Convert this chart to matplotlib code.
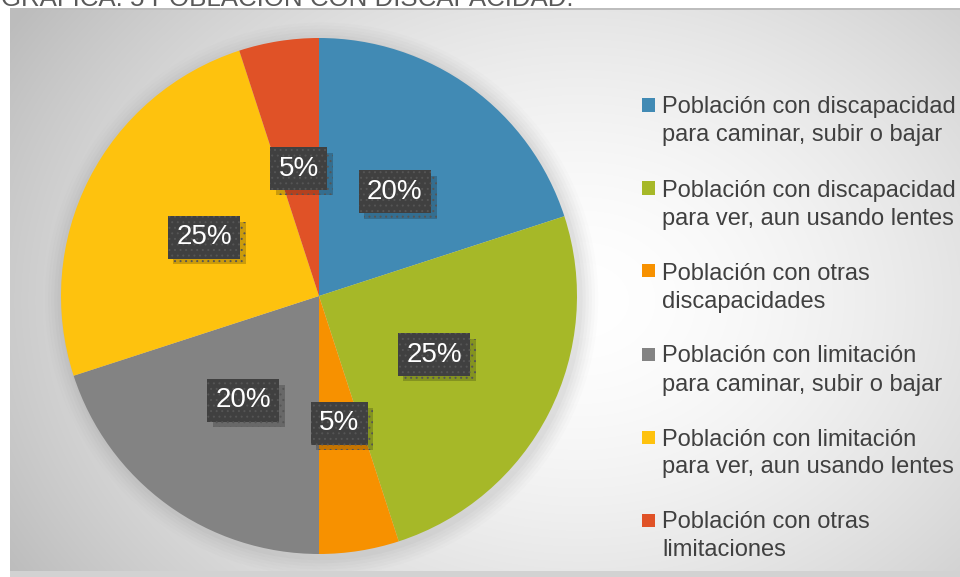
import numpy as np
import matplotlib
matplotlib.use("Agg")
import matplotlib.pyplot as plt
import matplotlib.patheffects as pe
from matplotlib.patches import Rectangle

plt.rcParams['font.family'] = ['Liberation Sans', 'DejaVu Sans']
plt.rcParams['hatch.linewidth'] = 0.7

# ---- data ----
categories = [
    "Población con discapacidad\npara caminar, subir o bajar",
    "Población con discapacidad\npara ver, aun usando lentes",
    "Población con otras\ndiscapacidades",
    "Población con limitación\npara caminar, subir o bajar",
    "Población con limitación\npara ver, aun usando lentes",
    "Población con otras\nlimitaciones",
]
values = [20, 25, 5, 20, 25, 5]
colors = ["#418AB4", "#A6B828", "#F79100", "#838383", "#FEC20E", "#E05227"]
title = "GRÁFICA. 5 POBLACIÓN CON DISCAPACIDAD."

W, H = 960, 577
fig = plt.figure(figsize=(W / 100, H / 100), dpi=100)
fig.patch.set_facecolor('white')

def fx(x):
    return x / W

def fy(y):
    return 1 - y / H

# ---- background gradient ----
bx0, by0, bx1, by1 = 10, 8, 960, 571
bg = fig.add_axes([fx(bx0), fy(by1), fx(bx1 - bx0), (by1 - by0) / H])
xs = np.arange(bx0, bx1)
ys = np.arange(by0, by1)
X, Y = np.meshgrid(xs, ys)
d = np.sqrt(((X - 580) / 1.0) ** 2 + ((Y - 300) / 0.78) ** 2)
v = 1 - 0.18 * np.clip(d / 530, 0, None) ** 1.6
v = np.clip(v, 0.74, 1.0)
img = np.dstack([v, v, v])
bg.imshow(img, aspect='auto', extent=[0, 1, 0, 1], interpolation='bilinear')
bg.set_xlim(0, 1)
bg.set_ylim(0, 1)
bg.axis('off')
# borders
fig.add_artist(Rectangle((fx(bx0), fy(by0 + 2)), fx(bx1 - bx0), 2 / H,
                         transform=fig.transFigure, color='#bdbdbd', lw=0))
fig.add_artist(Rectangle((fx(bx0), fy(577)), fx(bx1 - bx0), 6 / H,
                         transform=fig.transFigure, color='#d2d2d2', lw=0))

# title (cut at top, as in the reference)
fig.text(fx(1), fy(6), title, fontsize=18.6, color='#595959',
         ha='left', va='baseline')

# ---- pie ----
cx, cy, r = 319, 296, 258
ax = fig.add_axes([fx(cx - r), fy(cy + r), fx(2 * r), 2 * r / H])
ax.axis('off')
# soft shadow
for k, a in zip(range(6), [0.05, 0.045, 0.04, 0.035, 0.03, 0.025]):
    ax.add_patch(plt.Circle((0.01, -0.012), 1 + 0.012 * (k + 1), color='#808080',
                            alpha=a, lw=0, clip_on=False))

wedges, texts, autotexts = ax.pie(
    values, colors=colors, startangle=90, counterclock=False, radius=1,
    autopct='%.0f%%', pctdistance=0.5,
    wedgeprops=dict(linewidth=0),
    textprops=dict(color='white', fontsize=20))
ax.set_xlim(-1, 1)
ax.set_ylim(-1, 1)
for t in autotexts:
    t.set_bbox(dict(boxstyle='square,pad=0.3', facecolor='#404040',
                    edgecolor='#555555', linewidth=0, hatch='...'))
    t.get_bbox_patch().set_path_effects([
        pe.SimplePatchShadow(offset=(4, -4), shadow_rgbFace='#000000', alpha=0.2),
        pe.Normal()])

# ---- legend ----
row0 = 105
step = 83
for i, (lab, col) in enumerate(zip(categories, colors)):
    yc = row0 + i * step
    fig.add_artist(Rectangle((fx(642), fy(yc + 6.5)), fx(13), 13 / H,
                             transform=fig.transFigure, color=col, lw=0))
    for j, line in enumerate(lab.split("\n")):
        fig.text(fx(662), fy(yc + 8.5 + j * 28), line, fontsize=17,
                 color='#404040', ha='left', va='baseline')

fig.savefig('out.png', dpi=100)
